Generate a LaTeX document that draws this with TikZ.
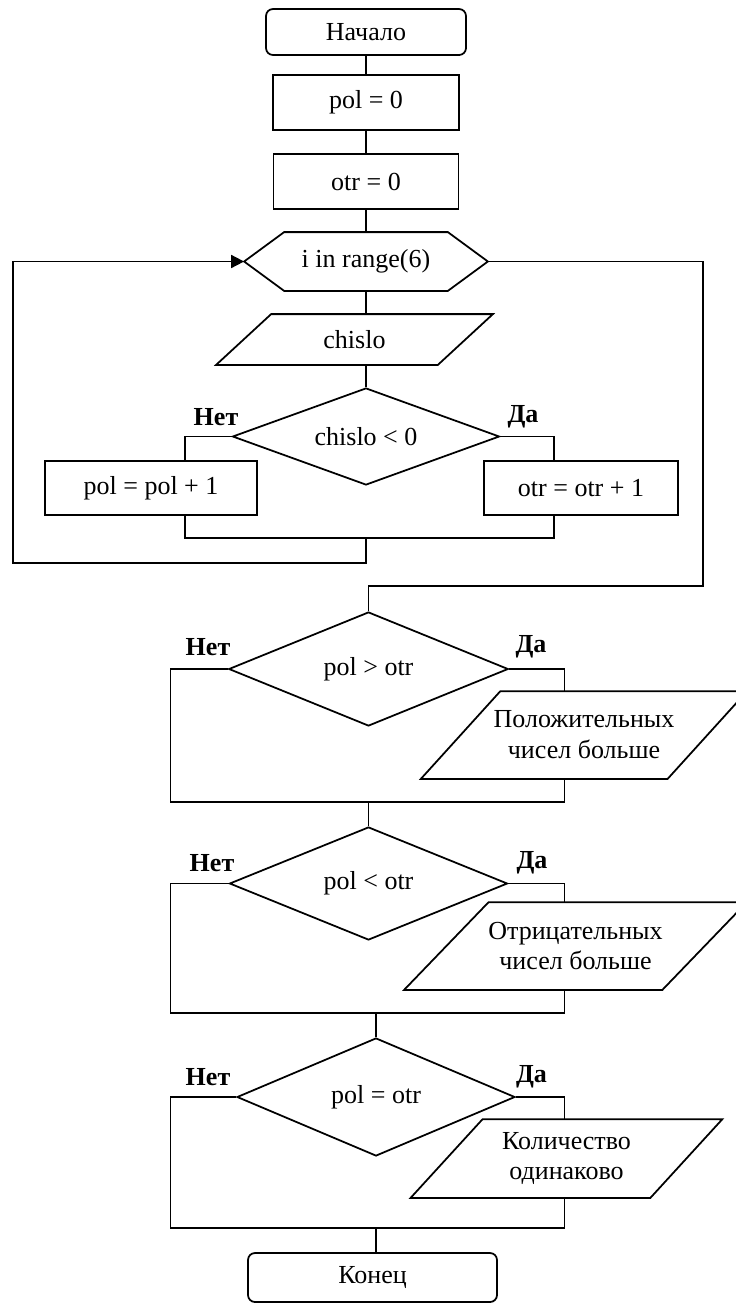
\documentclass[tikz,border=0pt]{standalone}
\usepackage{fontspec}
\setmainfont{Liberation Serif}
\usetikzlibrary{shapes.geometric,arrows.meta}
\newcommand{\flowfont}{\fontsize{14.8}{17.6}\selectfont}
\tikzset{
  terminal/.style={draw, rectangle, rounded corners=0.14cm, inner sep=0pt},
  process/.style={draw, rectangle, inner sep=0pt},
  decision/.style={draw, diamond, inner sep=0pt},
  iobox/.style={rectangle, inner sep=0pt, align=center},
  loopbox/.style={rectangle, inner sep=0pt},
  answer/.style={font=\flowfont\bfseries},
}

\begin{document}
\begin{tikzpicture}[line width=1pt, every node/.append style={font=\flowfont}]
  \useasboundingbox (0,0) rectangle (14.72,-26.06);
\node[terminal, minimum width=4.00cm, minimum height=0.92cm] (start) at (7.32,-0.64) {Начало};
\node[process, minimum width=3.72cm, minimum height=1.10cm] (pol0) at (7.32,-2.05) {pol = 0};
\node[process, minimum width=3.70cm, minimum height=1.10cm] (otr0) at (7.32,-3.63) {otr = 0};
\node[loopbox, minimum width=4.84cm, minimum height=1.14cm] (range) at (7.32,-5.23) {i in range(6)};
\draw (range.west) -- ([xshift=0.8cm]range.north west) -- ([xshift=-0.8cm]range.north east)
  -- (range.east) -- ([xshift=-0.8cm]range.south east) -- ([xshift=0.8cm]range.south west) -- cycle;
\node[iobox, minimum width=5.50cm, minimum height=0.98cm] (chislo) at (7.09,-6.79) {chislo};
\draw ([xshift=1.10cm]chislo.north west) -- (chislo.north east)
  -- ([xshift=-1.10cm]chislo.south east) -- (chislo.south west) -- cycle;
\node[decision, aspect=2.75, minimum width=5.34cm, minimum height=1.94cm] (sign) at (7.32,-8.73) {chislo < 0};
\node[answer] (no1) at (4.32,-8.34) {Нет};
\node[answer] (yes1) at (10.46,-8.34) {Да};
\node[process, minimum width=4.24cm, minimum height=1.08cm] (incpol) at (3.02,-9.76) {pol = pol + 1};
\node[process, minimum width=3.88cm, minimum height=1.08cm] (incotr) at (11.62,-9.76) {otr = otr + 1};

\node[decision, aspect=2.45, minimum width=5.59cm, minimum height=2.28cm] (more) at (7.37,-13.38) {pol > otr};
\node[answer] (no2) at (4.16,-12.94) {Нет};
\node[answer] (yes2) at (10.62,-12.94) {Да};
\node[iobox, minimum width=6.49cm, minimum height=1.72cm] (posout) at (11.68,-14.70) {Положительных\\чисел больше};
\draw ([xshift=1.59cm]posout.north west) -- (posout.north east)
  -- ([xshift=-1.59cm]posout.south east) -- (posout.south west) -- cycle;

\node[decision, aspect=2.46, minimum width=5.56cm, minimum height=2.26cm] (less) at (7.37,-17.67) {pol < otr};
\node[answer] (no3) at (4.24,-17.26) {Нет};
\node[answer] (yes3) at (10.64,-17.26) {Да};
\node[iobox, minimum width=6.82cm, minimum height=1.72cm] (negout) at (11.51,-18.92) {Отрицательных\\чисел больше};
\draw ([xshift=1.69cm]negout.north west) -- (negout.north east)
  -- ([xshift=-1.69cm]negout.south east) -- (negout.south west) -- cycle;

\node[decision, aspect=2.36, minimum width=5.56cm, minimum height=2.36cm] (equal) at (7.52,-21.94) {pol = otr};
\node[answer] (no4) at (4.16,-21.54) {Нет};
\node[answer] (yes4) at (10.63,-21.54) {Да};
\node[iobox, minimum width=6.20cm, minimum height=1.54cm] (eqout) at (11.33,-23.17) {Количество\\одинаково};
\draw ([xshift=1.44cm]eqout.north west) -- (eqout.north east)
  -- ([xshift=-1.44cm]eqout.south east) -- (eqout.south west) -- cycle;
\node[terminal, minimum width=4.98cm, minimum height=0.98cm] (stop) at (7.45,-25.55) {Конец};

\coordinate (nox) at (3.70,0);
\coordinate (yesx) at (11.08,0);
\coordinate (join1) at (7.32,-10.76);
\coordinate (back) at (0.266,-11.26);
\coordinate (exit) at (14.06,-11.72);
\coordinate (lx) at (3.41,0);
\coordinate (rx) at (11.29,0);
\coordinate (join2) at (7.37,-16.04);
\coordinate (join3) at (7.52,-20.26);
\coordinate (join4) at (7.52,-24.56);

\draw (start) -- (pol0);
\draw (pol0) -- (otr0);
\draw (otr0) -- (range);
\draw (range) -- (range |- chislo.north);
\draw (range |- chislo.south) -- (sign);
\draw (sign.west) -| (nox |- incpol.north);
\draw (sign.east) -| (yesx |- incotr.north);
\draw (nox |- incpol.south) |- (join1) -| (yesx |- incotr.south);
\draw[-{Triangle[length=0.26cm,width=0.26cm]}] (join1) |- (back) |- (range.west);
\draw (range.east) -| (exit) -| (more.north);

\draw (more.west) -| (lx |- join2) -- (rx |- join2) -- (rx |- posout.south);
\draw (more.east) -| (rx |- posout.north);
\draw (join2) -- (less);

\draw (less.west) -| (lx |- join3) -- (rx |- join3) -- (rx |- negout.south);
\draw (less.east) -| (rx |- negout.north);
\draw (join3) -- (equal);

\draw (equal.west) -| (lx |- join4) -- (rx |- join4) -- (rx |- eqout.south);
\draw (equal.east) -| (rx |- eqout.north);
\draw (join4) -- (join4 |- stop.north);

\end{tikzpicture}
\end{document}
